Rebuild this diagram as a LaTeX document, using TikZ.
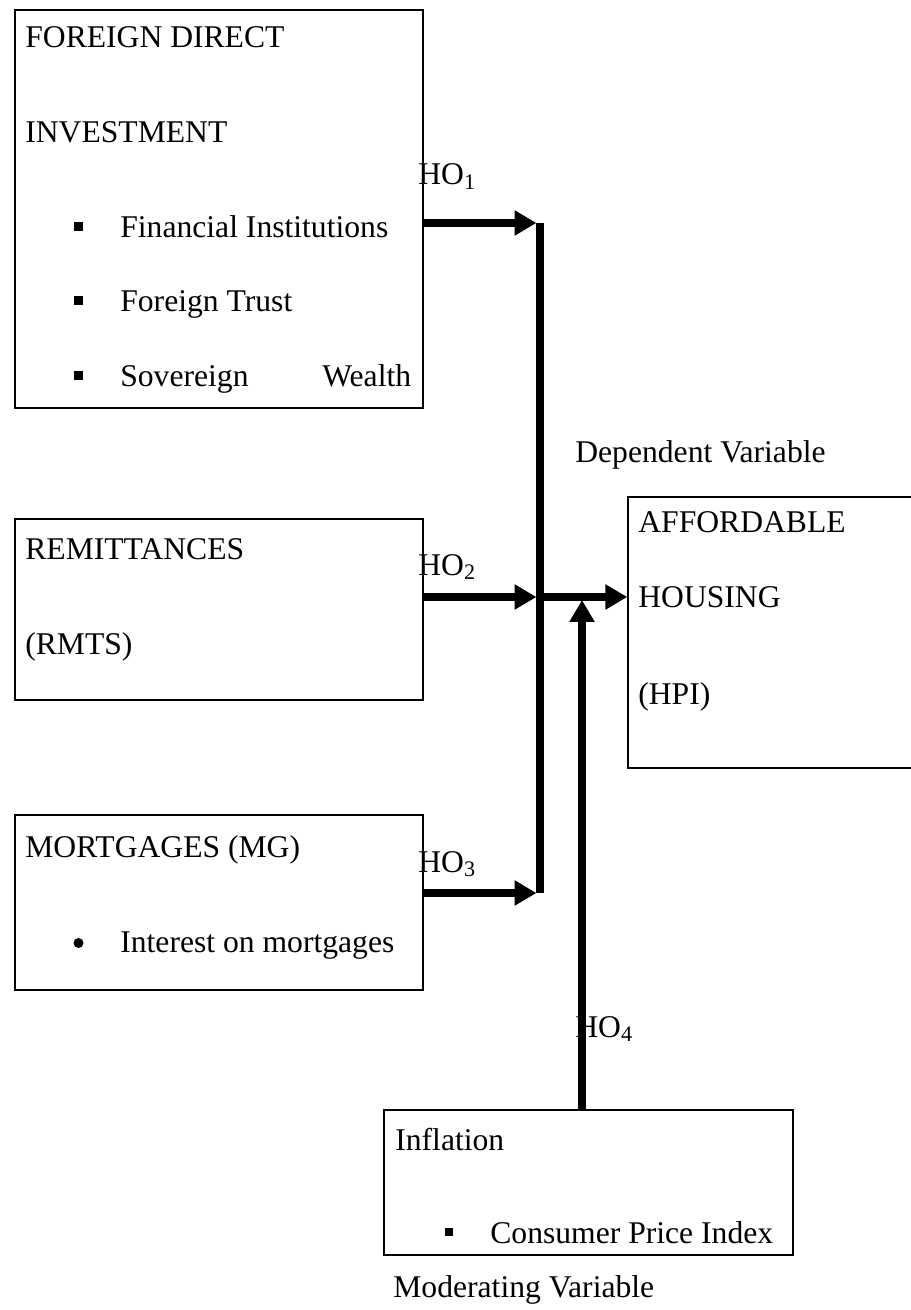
\documentclass[tikz,border=0pt]{standalone}
\usepackage{fontspec}
\setmainfont{Liberation Serif}
\usetikzlibrary{arrows.meta,fit}

\begin{document}
\begin{tikzpicture}[x=0.02cm,y=-0.02cm,
		box/.style={draw,line width=0.8pt,inner sep=0pt},
		txt/.style={anchor=base west,inner sep=0pt,font=\fontsize{18}{22}\selectfont},
		flow/.style={line width=0.15cm,-{Triangle[length=0.44cm,width=0.48cm]}},
		bar/.style={line width=0.15cm}]
		\useasboundingbox (0,0) rectangle (910,1310);

		% independent variables
		\node[box,fit={(15,10) (423,408)}] (fdi) {};
		\node[txt] (fdi1) at (25,48) {FOREIGN DIRECT};
		\node[txt] (fdi2) at (25,143) {INVESTMENT};
		\node[txt] (fdi3) at (120,238) {Financial Institutions};
		\node[txt] (fdi4) at (120,312) {Foreign Trust};
		\node[txt] (fdi5) at (120,387) {Sovereign};
		\node[txt] (fdi6) at (322,387) {Wealth};
		\foreach \yy in {227,301,376}
			\fill (74,\yy-4.5) rectangle ++(9,9);

		\node[box,fit={(15,519) (423,700)}] (rmts) {};
		\node[txt] (rmts1) at (25,559) {REMITTANCES};
		\node[txt] (rmts2) at (25,654) {(RMTS)};

		\node[box,fit={(15,815) (423,990)}] (mg) {};
		\node[txt] (mg1) at (25,857) {MORTGAGES (MG)};
		\node[txt] (mg2) at (120,952) {Interest on mortgages};
		\fill (78.5,943) circle (5);

		% dependent variable
		\node[txt] (dep) at (575,462) {Dependent Variable};
		\node[box,fit={(628,497) (930,768)}] (hpi) {};
		\node[txt] (hpi1) at (638,532) {AFFORDABLE};
		\node[txt] (hpi2) at (638,607) {HOUSING};
		\node[txt] (hpi3) at (638,704) {(HPI)};

		% moderating variable
		\node[box,fit={(384,1110) (793,1255)}] (inf) {};
		\node[txt] (inf1) at (395,1150) {Inflation};
		\node[txt] (inf2) at (490,1243) {Consumer Price Index};
		\fill (445,1228) rectangle ++(8,8);
		\node[txt] (mod) at (393,1297) {Moderating Variable};

		% hypotheses
		\node[txt] (ho1) at (418,185) {HO\textsubscript{1}};
		\node[txt] (ho2) at (418,575) {HO\textsubscript{2}};
		\node[txt] (ho3) at (418,872) {HO\textsubscript{3}};
		\node[txt] (ho4) at (575,1037) {HO\textsubscript{4}};

		\coordinate (j1) at (540,223);
		\coordinate (j2) at (540,597);
		\coordinate (j3) at (540,893);
		\coordinate (m) at (582,600);

		\draw[bar] (j1) -- (j3);
		\draw[flow] (fdi.east |- j1) -- ([xshift=-2]j1);
		\draw[flow] (rmts.east |- j2) -- ([xshift=-2]j2);
		\draw[flow] (mg.east |- j3) -- ([xshift=-2]j3);
		\draw[flow] (j2) -- (hpi.west |- j2);
		\draw[flow] (inf.north -| m) -- (m);
	\end{tikzpicture}
\end{document}
